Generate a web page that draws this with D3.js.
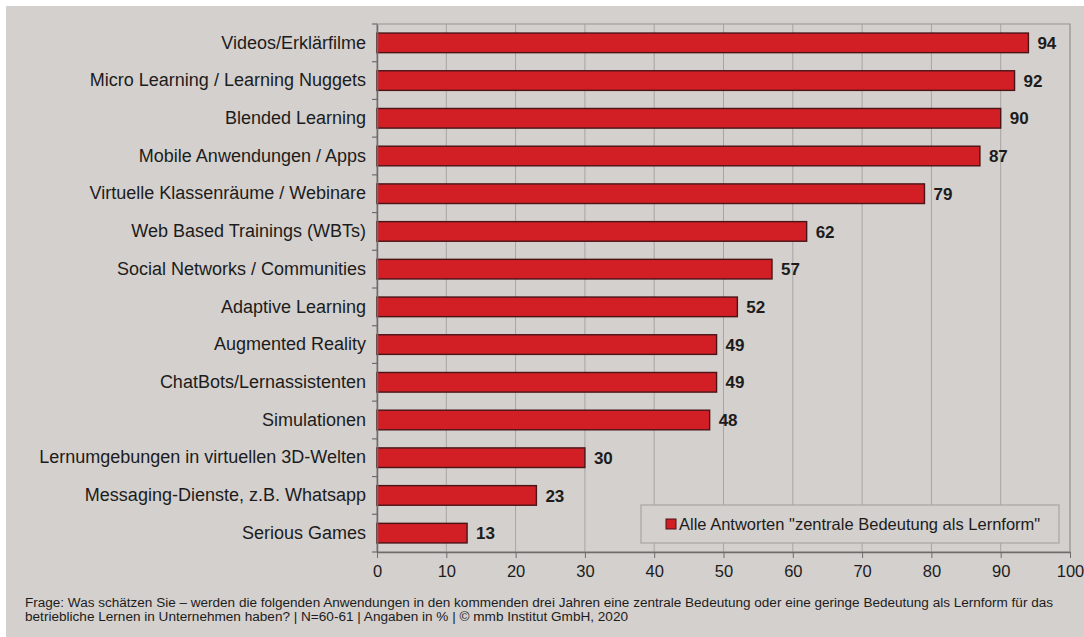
<!DOCTYPE html>
<html>
<head>
<meta charset="utf-8">
<script src="https://cdn.jsdelivr.net/npm/d3@7"></script>
<style>
  body { margin: 0; background: #fff; }
  svg { display: block; font-family: Arial, "Liberation Sans", sans-serif; }
</style>
</head>
<body>
<div id="chart"></div>
<script>
var categories = [
  "Videos/Erklärfilme",
  "Micro Learning / Learning Nuggets",
  "Blended Learning",
  "Mobile Anwendungen / Apps",
  "Virtuelle Klassenräume / Webinare",
  "Web Based Trainings (WBTs)",
  "Social Networks / Communities",
  "Adaptive Learning",
  "Augmented Reality",
  "ChatBots/Lernassistenten",
  "Simulationen",
  "Lernumgebungen in virtuellen 3D-Welten",
  "Messaging-Dienste, z.B. Whatsapp",
  "Serious Games"
];
var values = [94, 92, 90, 87, 79, 62, 57, 52, 49, 49, 48, 30, 23, 13];
var xTicks = [0, 10, 20, 30, 40, 50, 60, 70, 80, 90, 100];
var legendLabel = "Alle Antworten \"zentrale Bedeutung als Lernform\"";
var footnote = [
  "Frage: Was schätzen Sie – werden die folgenden Anwendungen in den kommenden drei Jahren eine zentrale Bedeutung oder eine geringe Bedeutung als Lernform für das",
  "betriebliche Lernen in Unternehmen haben?  | N=60-61 | Angaben in % | © mmb Institut GmbH, 2020"
];
var footWidths = [1028, 603];

var svgWidth = 1084, svgHeight = 637;
var margin = { top: 24, right: 14, bottom: 85, left: 377 };
var width = svgWidth - margin.left - margin.right;
var height = svgHeight - margin.top - margin.bottom;

var svg = d3.select("#chart").append("svg")
  .attr("width", svgWidth)
  .attr("height", svgHeight);

// background with white strip top/left
svg.append("rect").attr("x", 6).attr("y", 6)
  .attr("width", svgWidth - 6).attr("height", svgHeight - 6)
  .attr("fill", "#d4d0cd");

var g = svg.append("g")
  .attr("transform", "translate(" + margin.left + "," + margin.top + ")");

var x = d3.scaleLinear().domain([0, 100]).range([0, width]);
var y = d3.scaleBand().domain(categories).range([0, height]).paddingInner(0.48).paddingOuter(0.24);
var yb = d3.scaleBand().domain(categories).range([0, height]);

// grid
g.selectAll(".grid").data(xTicks.slice(1)).enter().append("line")
  .attr("x1", d => x(d)).attr("x2", d => x(d))
  .attr("y1", 0).attr("y2", height)
  .attr("stroke", "#a7a4a2").attr("stroke-width", 1);

// plot border
g.append("rect").attr("x", 0).attr("y", 0).attr("width", width).attr("height", height)
  .attr("fill", "none").attr("stroke", "#a19e9c").attr("stroke-width", 1.2);

// bars
g.selectAll(".bar").data(values).enter().append("rect")
  .attr("x", 0)
  .attr("y", (d, i) => y(categories[i]))
  .attr("width", d => x(d))
  .attr("height", y.bandwidth())
  .attr("fill", "#d21f25")
  .attr("stroke", "#4a1416").attr("stroke-width", 1.4);

// value labels
g.selectAll(".val").data(values).enter().append("text")
  .attr("x", d => x(d) + 9)
  .attr("y", (d, i) => y(categories[i]) + y.bandwidth() / 2)
  .attr("dy", "0.36em")
  .attr("font-size", 17).attr("font-weight", "bold").attr("fill", "#1c1c1c")
  .text(d => d);

// y axis
var yAxis = g.append("g").call(d3.axisLeft(yb).tickSize(0).tickPadding(11));
yAxis.select(".domain").attr("stroke", "#6e6c6b").attr("stroke-width", 1.5);
yAxis.selectAll("text").attr("font-size", 18).attr("fill", "#1c1c1c");
// band boundary ticks
g.selectAll(".ytick").data(d3.range(categories.length + 1)).enter().append("line")
  .attr("x1", -5).attr("x2", 0)
  .attr("y1", d => d * yb.step()).attr("y2", d => d * yb.step())
  .attr("stroke", "#6e6c6b").attr("stroke-width", 1.2);

// x axis
var xAxis = g.append("g").attr("transform", "translate(0," + height + ")")
  .call(d3.axisBottom(x).tickValues(xTicks).tickSize(6).tickPadding(7).tickSizeOuter(0));
xAxis.select(".domain").attr("stroke", "#6e6c6b").attr("stroke-width", 1.5);
xAxis.selectAll("line").attr("stroke", "#6e6c6b");
xAxis.selectAll("text").attr("font-size", 16.5).attr("fill", "#1c1c1c");

// legend
var lg = g.append("g").attr("transform", "translate(" + (641 - margin.left) + "," + (505 - margin.top) + ")");
lg.append("rect").attr("width", 418).attr("height", 38)
  .attr("fill", "#d4d0cd").attr("stroke", "#a8a5a3").attr("stroke-width", 1.2);
lg.append("rect").attr("x", 25).attr("y", 14).attr("width", 10).attr("height", 10)
  .attr("fill", "#d21f25").attr("stroke", "#4a1416").attr("stroke-width", 1);
lg.append("text").attr("x", 38).attr("y", 19).attr("dy", "0.36em")
  .attr("font-size", 16.5).attr("fill", "#1c1c1c").text(legendLabel);

// footnote
svg.selectAll(".foot").data(footnote).enter().append("text")
  .attr("x", 25)
  .attr("y", (d, i) => 607 + i * 14)
  .attr("font-size", 12.5).attr("fill", "#1c1c1c")
  .attr("font-family", "'Liberation Sans Narrow', Arial, sans-serif")
  .attr("textLength", (d, i) => footWidths[i])
  .attr("lengthAdjust", "spacingAndGlyphs")
  .text(d => d);
</script>
</body>
</html>
